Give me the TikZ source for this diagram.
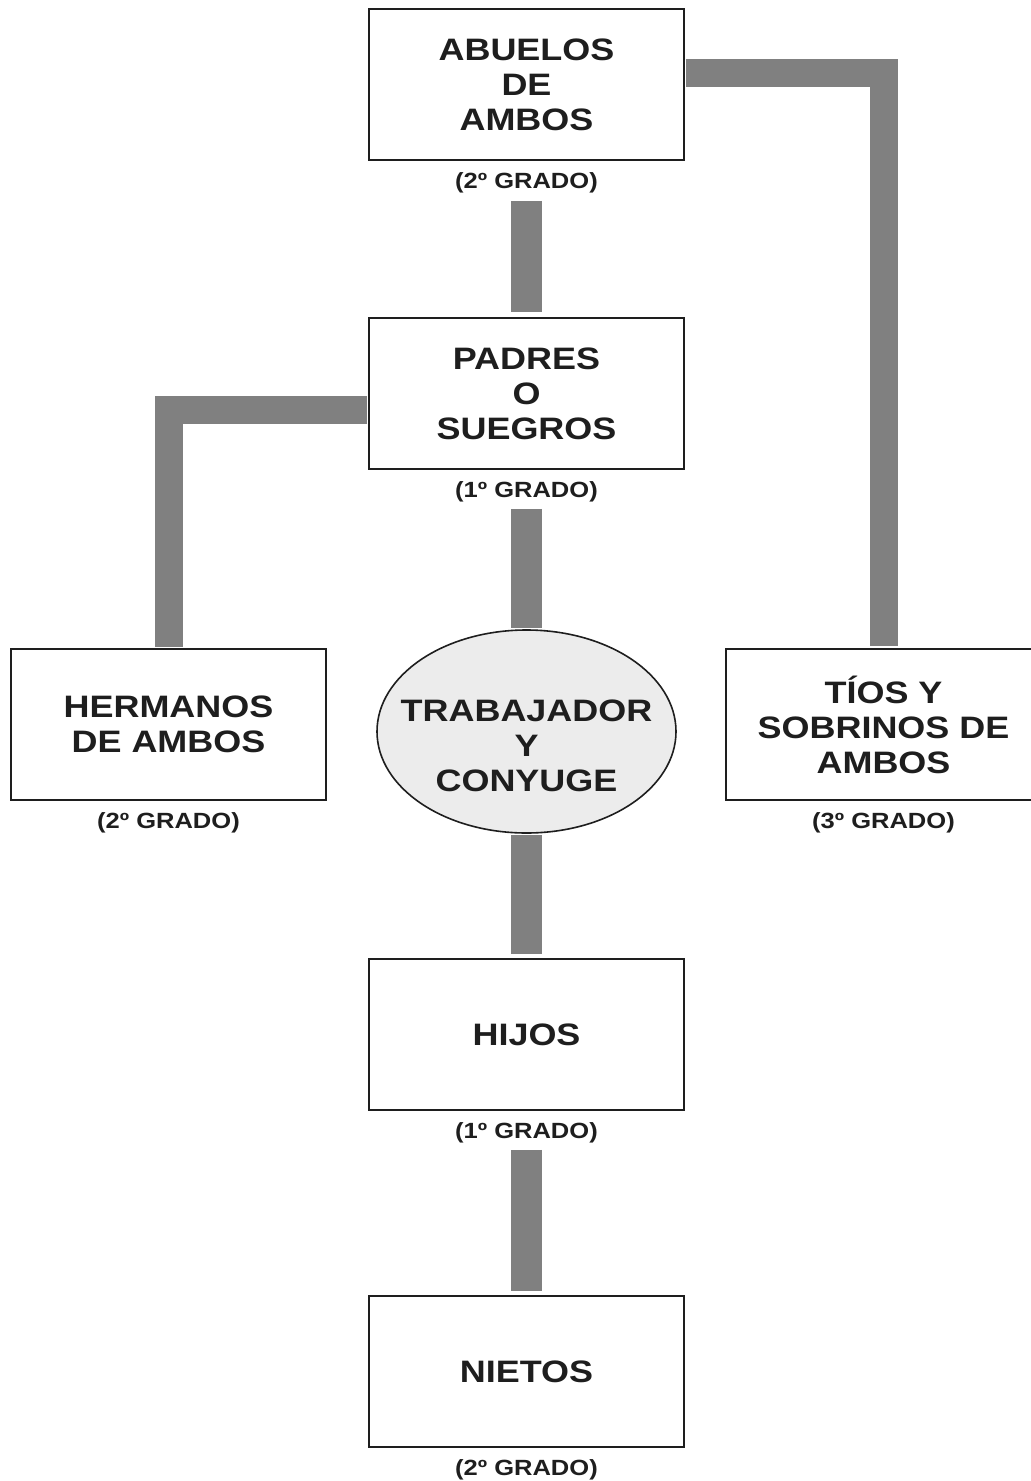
\documentclass[tikz,border=0pt]{standalone}
\usepackage{fontspec}
\setmainfont{Liberation Sans}[FakeStretch=1.16]
\definecolor{linkgray}{RGB}{128, 128, 128}
\definecolor{ovalgray}{RGB}{236, 236, 236}
\definecolor{inkgray}{RGB}{30, 30, 30}
\usepackage{tikz}
\usetikzlibrary{shapes, positioning}

\begin{document}
\begin{tikzpicture}[x=1pt, y=-1pt,
  kin/.style={draw=inkgray, line width=1.8pt, fill=white, minimum width=315pt, minimum height=151pt, align=center, text=inkgray, font=\bfseries\fontsize{31}{35}\selectfont},
  grado/.style={inner sep=0pt, text=inkgray, font=\bfseries\fontsize{22}{26}\selectfont},
  link/.style={draw=linkgray, line width=31pt},
  elbow/.style={draw=linkgray, line width=28pt}]
  \clip (0,0) rectangle (1031,1481);
  \fill[white] (0,0) rectangle (1031,1481);
  \node[kin] (abuelos) at (526.5, 84.5) {ABUELOS\\DE\\AMBOS};
  \node[grado, below=11pt of abuelos] (abuelosg) {(2º GRADO)};
  \node[kin] (padres) at (526.5, 393.5) {PADRES\\O\\SUEGROS};
  \node[grado, below=11pt of padres] (padresg) {(1º GRADO)};
  \node[kin] (hermanos) at (168.5, 724.5) {HERMANOS\\DE AMBOS};
  \node[grado, below=11pt of hermanos] (hermanosg) {(2º GRADO)};
  \node[kin] (tios) at (883.5, 724.5) {TÍOS Y\\SOBRINOS DE\\AMBOS};
  \node[grado, below=11pt of tios] (tiosg) {(3º GRADO)};
  \node[draw=inkgray, ellipse, line width=1.6pt, fill=ovalgray, minimum width=299pt, minimum height=203pt] (trab) at (526.5, 731.5) {};
  \node[align=center, text=inkgray, font=\bfseries\fontsize{31}{35}\selectfont] (trabtxt) at ([yshift=-14pt]trab.center) {TRABAJADOR\\Y\\CONYUGE};
  \node[kin] (hijos) at (526.5, 1034.5) {HIJOS};
  \node[grado, below=11pt of hijos] (hijosg) {(1º GRADO)};
  \node[kin] (nietos) at (526.5, 1371.5) {NIETOS};
  \node[grado, below=11pt of nietos] (nietosg) {(2º GRADO)};

  \draw[link, shorten <=8pt, shorten >=5pt] (abuelosg.south) -- (padres.north);
  \draw[link, shorten <=7pt, shorten >=1pt] (padresg.south) -- (trab.north);
  \draw[link, shorten <=1pt, shorten >=4pt] (trab.south) -- (hijos.north);
  \draw[link, shorten <=7pt, shorten >=4pt] (hijosg.south) -- (nietos.north);
  \draw[elbow, shorten <=1pt, shorten >=2pt] ([yshift=12pt]abuelos.east) -| (tios.north);
  \draw[elbow, shorten <=1pt, shorten >=1pt] ([yshift=-16.5pt]padres.west) -| (hermanos.north);
\end{tikzpicture}
\end{document}
